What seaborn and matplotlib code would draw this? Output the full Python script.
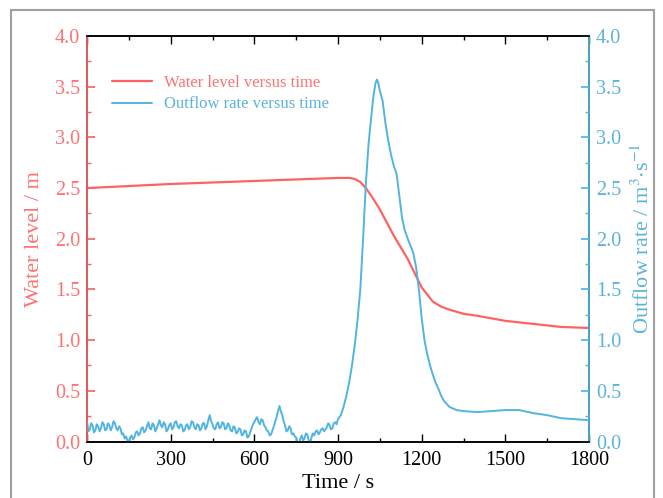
import numpy as np
import pandas as pd
import matplotlib
matplotlib.use("Agg")
import matplotlib.pyplot as plt
import seaborn as sns
from matplotlib.ticker import MultipleLocator
from matplotlib.patches import Rectangle

# ---------------------------------------------------------
# Data
# ---------------------------------------------------------
level_time = [0, 300, 600, 900, 940, 960, 980, 1000, 1025, 1050, 1100, 1150, 1200,
              1240, 1270, 1300, 1350, 1400, 1500, 1600, 1700, 1800]
level_m = [2.50, 2.54, 2.57, 2.60, 2.60, 2.59, 2.56, 2.50, 2.40, 2.29, 2.03, 1.80, 1.52,
           1.38, 1.33, 1.30, 1.26, 1.24, 1.19, 1.16, 1.13, 1.12]

# outflow before the breach, every 5 s from 0 to 900 s (one row per 100 s)
flow_base = [
    0.20, 0.10, 0.12, 0.18, 0.16, 0.09, 0.11, 0.17, 0.15, 0.10, 0.13, 0.19, 0.17, 0.11, 0.12, 0.18, 0.16, 0.11, 0.14, 0.20,
    0.18, 0.13, 0.11, 0.15, 0.13, 0.07, 0.08, 0.03, 0.05, 0.01, -0.02, 0.04, 0.06, 0.02, 0.04, 0.09, 0.10, 0.06, 0.08, 0.13,
    0.14, 0.09, 0.11, 0.15, 0.19, 0.13, 0.12, 0.18, 0.16, 0.10, 0.13, 0.17, 0.21, 0.16, 0.14, 0.19, 0.17, 0.10, 0.12, 0.16,
    0.18, 0.12, 0.14, 0.19, 0.20, 0.15, 0.13, 0.17, 0.16, 0.10, 0.11, 0.16, 0.17, 0.12, 0.14, 0.20, 0.19, 0.14, 0.12, 0.17,
    0.16, 0.11, 0.13, 0.18, 0.18, 0.12, 0.15, 0.21, 0.26, 0.20, 0.17, 0.13, 0.12, 0.17, 0.19, 0.13, 0.14, 0.19, 0.18, 0.12,
    0.13, 0.18, 0.16, 0.11, 0.10, 0.15, 0.14, 0.08, 0.09, 0.13, 0.12, 0.06, 0.07, 0.11, 0.10, 0.04, 0.05, 0.09, 0.13, 0.17,
    0.19, 0.22, 0.24, 0.19, 0.17, 0.22, 0.21, 0.16, 0.14, 0.11, 0.10, 0.06, 0.07, 0.11, 0.15, 0.20, 0.24, 0.30, 0.35, 0.30,
    0.26, 0.20, 0.16, 0.10, 0.11, 0.15, 0.13, 0.07, 0.08, 0.05, 0.04, -0.02, -0.02, 0.03, 0.06, 0.01, 0.03, 0.08, 0.07, 0.01,
    -0.02, 0.04, 0.08, 0.06, 0.10, 0.11, 0.07, 0.09, 0.12, 0.13, 0.10, 0.12, 0.14, 0.18, 0.16, 0.12, 0.13, 0.18, 0.19, 0.17,
    0.22,
]
flow_base_time = list(range(0, 901, 5))

# breach hydrograph after 900 s
flow_peak_time = [910, 920, 930, 940, 950, 960, 970, 980, 990, 1000, 1010, 1020, 1025, 1030,
                  1035, 1040, 1045, 1050, 1060, 1070, 1080, 1090, 1100, 1110, 1120, 1130, 1140,
                  1150, 1160, 1170, 1180, 1190, 1200, 1210, 1220, 1230, 1240, 1250,
                  1260, 1270, 1280, 1300, 1325, 1350, 1400, 1450, 1500, 1550, 1600,
                  1650, 1700, 1750, 1800]
flow_peak = [0.26, 0.34, 0.45, 0.58, 0.75, 0.95, 1.20, 1.50, 2.00, 2.55, 2.95, 3.22, 3.36, 3.46,
             3.54, 3.57, 3.53, 3.46, 3.36, 3.14, 2.97, 2.83, 2.72, 2.64, 2.42, 2.20, 2.08,
             2.00, 1.93, 1.86, 1.72, 1.50, 1.22, 1.00, 0.86, 0.75, 0.66, 0.58,
             0.52, 0.45, 0.40, 0.34, 0.31, 0.30, 0.29, 0.30, 0.31, 0.31, 0.28,
             0.26, 0.23, 0.22, 0.21]

df_level = pd.DataFrame({"time": level_time, "level": level_m})
df_flow = pd.DataFrame({"time": flow_base_time + flow_peak_time,
                        "flow": flow_base + flow_peak})

red = "#ff6262"
blue = "#52b4e0"
red_txt = "#ff7272"
blue_txt = "#5cb3da"

sns.set_theme(style="ticks")
plt.rcParams["font.family"] = ["Liberation Serif", "DejaVu Serif"]
plt.rcParams["mathtext.fontset"] = "stix"

fig = plt.figure(figsize=(6.63, 4.98), dpi=100)
ax = fig.add_axes([87 / 663, 1 - 441.5 / 498, 502 / 663, 405.5 / 498])
ax2 = ax.twinx()

sns.lineplot(data=df_level, x="time", y="level", ax=ax, color=red, linewidth=1.6,
             label="Water level versus time", legend=False)
sns.lineplot(data=df_flow, x="time", y="flow", ax=ax2, color=blue, linewidth=1.4,
             label="Outflow rate versus time", legend=False)

for a in (ax, ax2):
    a.set_xlim(0, 1800)
    a.set_ylim(0, 4)
    a.yaxis.set_major_locator(MultipleLocator(0.5))
    a.yaxis.set_minor_locator(MultipleLocator(0.25))
    a.yaxis.set_major_formatter(matplotlib.ticker.FormatStrFormatter("%.1f"))

ax.xaxis.set_major_locator(MultipleLocator(300))
ax.xaxis.set_minor_locator(MultipleLocator(150))

ax.tick_params(axis="x", which="both", direction="in", top=True, bottom=True,
               colors="black", labelsize=14.5, pad=7)
ax.tick_params(axis="x", which="major", length=6, width=1)
ax.tick_params(axis="x", which="minor", length=3, width=1)
ax.tick_params(axis="y", which="both", direction="in", colors=red, labelcolor=red_txt,
               labelsize=14.5, pad=5)
ax.tick_params(axis="y", which="major", length=6)
ax.tick_params(axis="y", which="minor", length=3)
ax2.tick_params(axis="y", which="both", direction="in", colors=blue, labelcolor=blue_txt,
                labelsize=14.5, pad=5)
ax2.tick_params(axis="y", which="major", length=6)
ax2.tick_params(axis="y", which="minor", length=3)

for s in ("top", "bottom"):
    ax2.spines[s].set_color("black")
    ax2.spines[s].set_linewidth(1.2)
ax2.spines["left"].set_color(red)
ax2.spines["left"].set_linewidth(1.2)
ax2.spines["right"].set_color(blue)
ax2.spines["right"].set_linewidth(1.2)

ax.set_xlabel("Time / s", fontsize=16, color="black")
ax.xaxis.set_label_coords(0.5, -0.08)
ax.set_ylabel("Water level / m", fontsize=16, color=red_txt)
ax.yaxis.set_label_coords(-0.085, 0.5)
ax2.set_ylabel(r"Outflow rate / m$^{3}$$\cdot$s$^{-1}$", fontsize=16, color=blue_txt)
ax2.yaxis.set_label_coords(1.085, 0.5)

h1, l1 = ax.get_legend_handles_labels()
h2, l2 = ax2.get_legend_handles_labels()
leg = ax2.legend(h1 + h2, l1 + l2, loc="upper left", bbox_to_anchor=(0.05, 0.905),
                 frameon=False, fontsize=12, handlelength=2.4, handletextpad=0.7,
                 labelspacing=0.35, borderpad=0, borderaxespad=0)
for txt, c in zip(leg.get_texts(), [red_txt, blue_txt]):
    txt.set_color(c)

# gray frame around the figure
fig.patches.append(Rectangle((11 / 663, -0.1), 643 / 663, 1.1 - 10 / 498,
                             transform=fig.transFigure, fill=False,
                             edgecolor="#a0a0a0", linewidth=1.5))

fig.savefig("out.png", dpi=100)
